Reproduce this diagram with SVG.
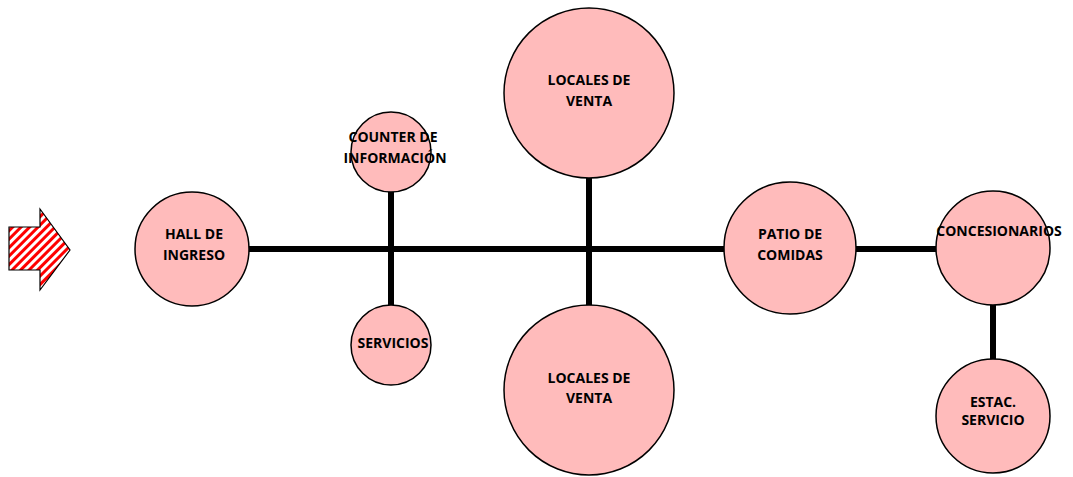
<svg xmlns="http://www.w3.org/2000/svg" width="1073" height="477" viewBox="0 0 1073 477">
<style>
.n{fill:#FFBBBB;stroke:#000;stroke-width:1.5}
.t{font-family:"Open Sans","Liberation Sans",sans-serif;font-weight:bold;font-size:14px;fill:#000;text-anchor:middle}
.c{stroke:#000;stroke-width:6;fill:none}
</style>
<defs>
<pattern id="hatch" patternUnits="userSpaceOnUse" width="6" height="6" patternTransform="rotate(45)">
<rect width="6" height="6" fill="#fff"/>
<rect width="3" height="6" fill="#FF0000"/>
</pattern>
</defs>
<g id="arrow">
<polygon points="9,227 40,227 40,209 70,250 40,290 40,270 9,270" fill="url(#hatch)" stroke="#000" stroke-width="1.2"/>
</g>
<g id="connectors">
<line class="c" x1="249" y1="249" x2="724" y2="249"/>
<line class="c" x1="856" y1="249" x2="936" y2="249"/>
<line class="c" x1="391" y1="192" x2="391" y2="305"/>
<line class="c" x1="589" y1="178" x2="589" y2="305"/>
<line class="c" x1="993" y1="304" x2="993" y2="360"/>
</g>
<g id="hall">
<circle class="n" cx="192" cy="249" r="57"/>
<text class="t" x="194" y="239">HALL DE</text>
<text class="t" x="194" y="260">INGRESO</text>
</g>
<g id="counter">
<circle class="n" cx="391" cy="152" r="40"/>
<text class="t" x="393" y="142">COUNTER DE</text>
<text class="t" x="395" y="163">INFORMACIÓN</text>
</g>
<g id="servicios">
<circle class="n" cx="391" cy="345" r="40"/>
<text class="t" x="393" y="348">SERVICIOS</text>
</g>
<g id="locales-top">
<circle class="n" cx="589" cy="93" r="85"/>
<text class="t" x="589" y="85">LOCALES DE</text>
<text class="t" x="589" y="106">VENTA</text>
</g>
<g id="locales-bottom">
<circle class="n" cx="589" cy="390" r="85"/>
<text class="t" x="589" y="383">LOCALES DE</text>
<text class="t" x="589" y="403">VENTA</text>
</g>
<g id="patio">
<circle class="n" cx="790" cy="248" r="66"/>
<text class="t" x="790" y="239">PATIO DE</text>
<text class="t" x="790" y="260">COMIDAS</text>
</g>
<g id="concesionarios">
<circle class="n" cx="993" cy="248" r="57"/>
<text class="t" x="999" y="236">CONCESIONARIOS</text>
</g>
<g id="estac">
<circle class="n" cx="993" cy="416" r="57"/>
<text class="t" x="993" y="407">ESTAC.</text>
<text class="t" x="993" y="425">SERVICIO</text>
</g>
</svg>
